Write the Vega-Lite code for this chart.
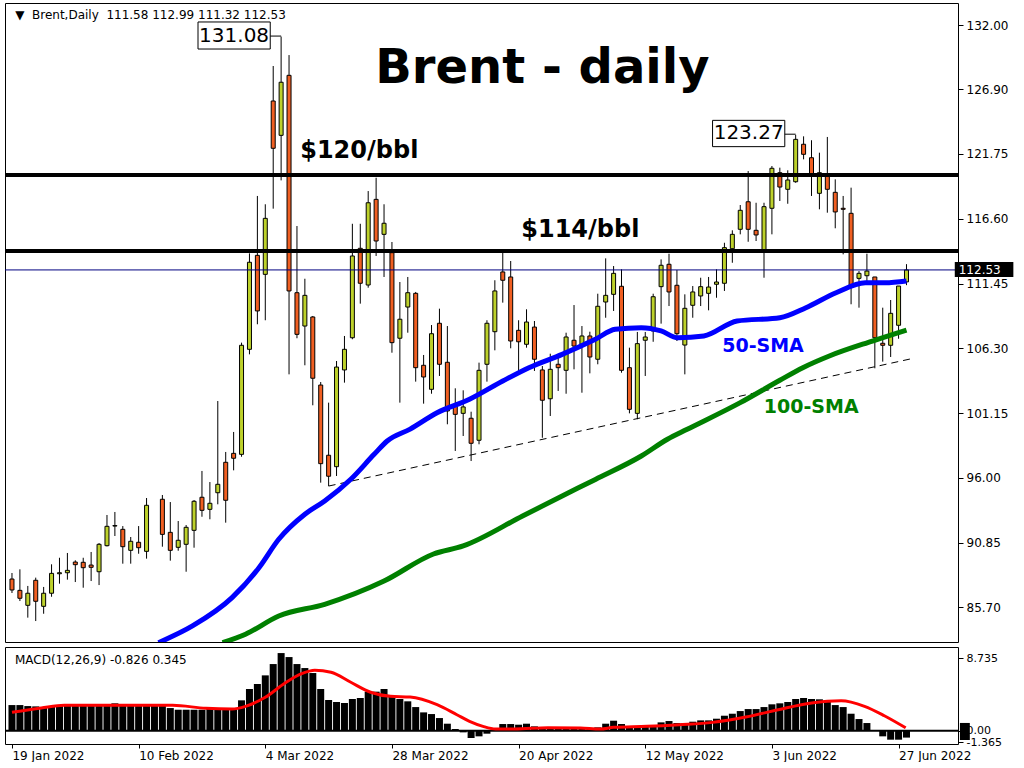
{
"$schema": "https://vega.github.io/schema/vega-lite/v6.json",
"background": "white",
"padding": {"left": 2, "top": 2, "right": 0, "bottom": 0},
"spacing": 3,
"config": {
  "view": {"stroke": "black", "strokeWidth": 1},
  "axis": {"labelFont": "DejaVu Sans", "labelFontSize": 12, "labelColor": "black", "tickColor": "black", "tickWidth": 1, "grid": false, "domain": false, "title": null},
  "text": {"font": "DejaVu Sans"}
},
"resolve": {"scale": {"x": "independent", "y": "independent"}},
"datasets": {
  "one": [{}],
  "candles": [
    {"i":0,"o":87.96,"h":88.44,"l":86.85,"c":87.09},
    {"i":1,"o":87.06,"h":88.73,"l":86.21,"c":86.43},
    {"i":2,"o":85.87,"h":87.41,"l":84.89,"c":86.83},
    {"i":3,"o":87.86,"h":88.07,"l":84.62,"c":86.19},
    {"i":4,"o":85.79,"h":87.33,"l":85.20,"c":86.83},
    {"i":5,"o":86.83,"h":89.13,"l":86.55,"c":88.41},
    {"i":6,"o":88.38,"h":89.65,"l":87.59,"c":88.46},
    {"i":7,"o":88.46,"h":90.03,"l":87.91,"c":88.65},
    {"i":8,"o":89.31,"h":89.45,"l":87.72,"c":89.10},
    {"i":9,"o":89.29,"h":89.65,"l":87.27,"c":88.86},
    {"i":10,"o":89.07,"h":90.11,"l":87.80,"c":88.89},
    {"i":11,"o":88.54,"h":90.82,"l":87.48,"c":90.72},
    {"i":12,"o":90.61,"h":93.05,"l":90.55,"c":92.15},
    {"i":13,"o":92.17,"h":93.29,"l":91.38,"c":92.21},
    {"i":14,"o":91.91,"h":92.17,"l":89.18,"c":90.53},
    {"i":15,"o":90.24,"h":91.30,"l":89.18,"c":90.96},
    {"i":16,"o":90.88,"h":92.17,"l":89.97,"c":90.45},
    {"i":17,"o":90.16,"h":94.40,"l":89.58,"c":93.82},
    {"i":19,"o":94.30,"h":94.64,"l":90.53,"c":91.51},
    {"i":20,"o":91.67,"h":94.08,"l":89.42,"c":90.24},
    {"i":21,"o":90.48,"h":92.57,"l":90.21,"c":91.04},
    {"i":22,"o":90.72,"h":92.25,"l":88.54,"c":92.07},
    {"i":23,"o":91.83,"h":94.24,"l":90.45,"c":94.14},
    {"i":24,"o":94.46,"h":96.55,"l":92.91,"c":93.42},
    {"i":25,"o":93.50,"h":95.67,"l":92.71,"c":93.98},
    {"i":26,"o":94.82,"h":102.11,"l":93.90,"c":95.49},
    {"i":27,"o":97.24,"h":98.06,"l":92.44,"c":94.22},
    {"i":28,"o":97.95,"h":99.65,"l":96.60,"c":97.56},
    {"i":29,"o":97.87,"h":106.75,"l":97.68,"c":106.54},
    {"i":30,"o":106.22,"h":113.85,"l":105.82,"c":113.14},
    {"i":31,"o":113.69,"h":118.41,"l":108.21,"c":109.27},
    {"i":32,"o":112.18,"h":117.75,"l":108.53,"c":116.63},
    {"i":33,"o":125.96,"h":128.74,"l":117.40,"c":122.20},
    {"i":34,"o":123.23,"h":131.08,"l":119.65,"c":127.45},
    {"i":35,"o":128.00,"h":129.61,"l":104.23,"c":110.86},
    {"i":36,"o":110.72,"h":116.02,"l":107.10,"c":107.41},
    {"i":37,"o":108.07,"h":111.83,"l":104.95,"c":110.51},
    {"i":38,"o":108.79,"h":108.87,"l":101.77,"c":103.92},
    {"i":39,"o":103.38,"h":103.62,"l":95.62,"c":97.13},
    {"i":40,"o":97.80,"h":101.98,"l":95.35,"c":96.13},
    {"i":41,"o":96.89,"h":105.29,"l":96.15,"c":104.81},
    {"i":42,"o":104.58,"h":107.28,"l":103.57,"c":106.22},
    {"i":43,"o":107.14,"h":116.20,"l":107.02,"c":113.64},
    {"i":44,"o":114.25,"h":116.20,"l":109.85,"c":111.47},
    {"i":45,"o":111.33,"h":118.80,"l":111.12,"c":117.87},
    {"i":46,"o":118.14,"h":119.86,"l":113.64,"c":114.83},
    {"i":47,"o":115.36,"h":117.75,"l":111.97,"c":116.24},
    {"i":48,"o":113.90,"h":114.75,"l":105.95,"c":106.75},
    {"i":49,"o":107.10,"h":111.57,"l":101.98,"c":108.61},
    {"i":50,"o":109.58,"h":111.97,"l":107.54,"c":110.72},
    {"i":51,"o":110.67,"h":110.78,"l":103.65,"c":104.76},
    {"i":52,"o":104.95,"h":105.77,"l":101.90,"c":104.02},
    {"i":53,"o":103.04,"h":108.15,"l":102.69,"c":107.46},
    {"i":54,"o":108.29,"h":109.45,"l":104.10,"c":105.03},
    {"i":55,"o":105.19,"h":108.07,"l":100.26,"c":101.32},
    {"i":56,"o":101.71,"h":103.12,"l":98.14,"c":101.05},
    {"i":57,"o":101.13,"h":102.96,"l":99.33,"c":101.64},
    {"i":58,"o":100.74,"h":101.26,"l":97.34,"c":98.75},
    {"i":59,"o":98.99,"h":105.16,"l":98.67,"c":104.55},
    {"i":60,"o":105.03,"h":108.53,"l":103.65,"c":108.29},
    {"i":61,"o":107.62,"h":111.71,"l":106.14,"c":110.86},
    {"i":62,"o":112.37,"h":113.90,"l":109.93,"c":111.71},
    {"i":63,"o":111.97,"h":113.24,"l":106.30,"c":106.88},
    {"i":64,"o":107.73,"h":108.53,"l":104.36,"c":106.82},
    {"i":65,"o":106.62,"h":109.40,"l":106.35,"c":108.39},
    {"i":66,"o":107.99,"h":108.47,"l":104.50,"c":105.43},
    {"i":67,"o":104.58,"h":104.89,"l":99.19,"c":102.17},
    {"i":68,"o":102.29,"h":105.87,"l":100.92,"c":104.63},
    {"i":69,"o":105.03,"h":105.82,"l":102.91,"c":104.76},
    {"i":70,"o":104.55,"h":107.54,"l":102.69,"c":107.20},
    {"i":71,"o":106.94,"h":109.74,"l":104.63,"c":106.48},
    {"i":72,"o":106.62,"h":108.07,"l":102.77,"c":107.28},
    {"i":73,"o":107.28,"h":107.62,"l":104.31,"c":105.61},
    {"i":74,"o":105.43,"h":110.64,"l":105.03,"c":109.64},
    {"i":75,"o":109.98,"h":113.45,"l":108.73,"c":110.51},
    {"i":76,"o":110.59,"h":112.84,"l":109.27,"c":112.26},
    {"i":77,"o":111.23,"h":112.58,"l":104.36,"c":104.55},
    {"i":78,"o":104.76,"h":106.35,"l":101.13,"c":101.45},
    {"i":79,"o":101.13,"h":107.60,"l":100.66,"c":106.67},
    {"i":80,"o":106.94,"h":107.60,"l":104.10,"c":107.20},
    {"i":81,"o":107.68,"h":110.64,"l":106.82,"c":110.40},
    {"i":82,"o":111.20,"h":113.37,"l":108.26,"c":112.90},
    {"i":83,"o":112.98,"h":113.82,"l":109.66,"c":110.78},
    {"i":84,"o":111.31,"h":112.52,"l":106.88,"c":107.46},
    {"i":85,"o":106.56,"h":110.59,"l":104.23,"c":109.48},
    {"i":86,"o":109.72,"h":111.25,"l":108.73,"c":110.78},
    {"i":87,"o":110.46,"h":111.91,"l":109.66,"c":111.20},
    {"i":88,"o":110.67,"h":111.97,"l":109.32,"c":111.17},
    {"i":89,"o":111.39,"h":112.58,"l":110.32,"c":111.57},
    {"i":90,"o":111.47,"h":114.69,"l":110.86,"c":114.30},
    {"i":91,"o":114.22,"h":115.68,"l":113.10,"c":115.36},
    {"i":92,"o":115.76,"h":117.69,"l":115.36,"c":117.27},
    {"i":93,"o":117.95,"h":120.39,"l":114.77,"c":115.76},
    {"i":94,"o":115.68,"h":117.87,"l":114.83,"c":115.31},
    {"i":95,"o":114.03,"h":117.87,"l":111.91,"c":117.56},
    {"i":96,"o":117.43,"h":120.79,"l":115.36,"c":120.61},
    {"i":97,"o":120.26,"h":120.66,"l":118.01,"c":119.12},
    {"i":98,"o":118.94,"h":120.45,"l":117.79,"c":119.68},
    {"i":99,"o":119.54,"h":123.27,"l":119.46,"c":122.91},
    {"i":100,"o":122.52,"h":123.15,"l":121.32,"c":121.72},
    {"i":101,"o":121.45,"h":122.84,"l":118.41,"c":120.18},
    {"i":102,"o":118.62,"h":121.85,"l":117.35,"c":120.26},
    {"i":103,"o":120.13,"h":123.10,"l":117.08,"c":118.94},
    {"i":104,"o":118.70,"h":119.73,"l":115.84,"c":117.14},
    {"i":105,"o":117.43,"h":118.41,"l":113.77,"c":117.35},
    {"i":106,"o":117.03,"h":119.07,"l":109.80,"c":111.31},
    {"i":107,"o":111.86,"h":112.44,"l":109.53,"c":112.26},
    {"i":108,"o":112.07,"h":113.82,"l":111.39,"c":112.44},
    {"i":109,"o":111.97,"h":111.97,"l":104.71,"c":107.14},
    {"i":110,"o":106.70,"h":109.53,"l":105.24,"c":106.54},
    {"i":111,"o":106.54,"h":110.14,"l":105.61,"c":109.08},
    {"i":112,"o":108.13,"h":111.25,"l":107.06,"c":111.25},
    {"i":113,"o":111.58,"h":112.99,"l":111.32,"c":112.53}
  ],
  "sma50": [
    {"i":18.5,"v":82.9},{"i":22.8,"v":84.23},{"i":27.8,"v":86.48},{"i":31.2,"v":88.86},{"i":33.7,"v":91.12},
    {"i":37,"v":93.11},{"i":39.5,"v":94.16},{"i":42.8,"v":95.89},{"i":45.75,"v":97.87},{"i":47.4,"v":98.93},
    {"i":50.3,"v":99.88},{"i":53.7,"v":101.18},{"i":57.8,"v":102.25},{"i":62,"v":103.70},{"i":65.3,"v":104.76},
    {"i":69.5,"v":105.82},{"i":73.7,"v":107.02},{"i":76.2,"v":107.81},{"i":79.5,"v":107.94},{"i":82,"v":107.68},
    {"i":84.1,"v":107.14},{"i":87.4,"v":107.28},{"i":91.6,"v":108.47},{"i":97,"v":108.73},{"i":100.3,"v":109.53},
    {"i":104.1,"v":110.72},{"i":107.8,"v":111.51},{"i":110.3,"v":111.51},{"i":113,"v":111.65}
  ],
  "sma100": [
    {"i":26.6,"v":82.9},{"i":29.5,"v":83.57},{"i":33.7,"v":85.02},{"i":39.5,"v":85.95},{"i":47,"v":87.80},
    {"i":53.25,"v":89.95},{"i":57,"v":90.59},{"i":64.5,"v":92.97},{"i":69.5,"v":94.56},{"i":73.7,"v":95.88},
    {"i":79.5,"v":97.74},{"i":82.8,"v":99.07},{"i":85.3,"v":99.86},{"i":92,"v":101.98},{"i":97,"v":103.76},
    {"i":99.9,"v":104.76},{"i":103.25,"v":105.69},{"i":108.7,"v":106.88},{"i":113,"v":107.75}
  ],
  "trend": [{"i1":40,"p1":95.35,"i2":113.9,"p2":105.51}],
  "macd": [
    {"i":0,"v":3.08},{"i":1,"v":3.08},{"i":2,"v":2.96},{"i":3,"v":2.92},{"i":4,"v":2.84},{"i":5,"v":2.92},
    {"i":6,"v":3.04},{"i":7,"v":3.12},{"i":8,"v":3.12},{"i":9,"v":3.12},{"i":10,"v":3.12},{"i":11,"v":3.12},
    {"i":12,"v":3.17},{"i":13,"v":3.29},{"i":14,"v":3.17},{"i":15,"v":3.12},{"i":16,"v":3.12},{"i":17,"v":3.12},
    {"i":18,"v":3.12},{"i":19,"v":3.04},{"i":20,"v":2.72},{"i":21,"v":2.52},{"i":22,"v":2.52},{"i":23,"v":2.52},
    {"i":24,"v":2.52},{"i":25,"v":2.60},{"i":26,"v":2.60},{"i":27,"v":2.60},{"i":28,"v":2.60},{"i":29,"v":3.65},
    {"i":30,"v":5.01},{"i":31,"v":5.61},{"i":32,"v":6.65},{"i":33,"v":8.01},{"i":34,"v":9.33},{"i":35,"v":8.85},
    {"i":36,"v":8.01},{"i":37,"v":7.53},{"i":38,"v":6.93},{"i":39,"v":5.01},{"i":40,"v":3.69},{"i":41,"v":3.45},
    {"i":42,"v":3.33},{"i":43,"v":3.81},{"i":44,"v":3.93},{"i":45,"v":4.69},{"i":46,"v":4.69},{"i":47,"v":5.01},
    {"i":48,"v":4.13},{"i":49,"v":3.81},{"i":50,"v":3.53},{"i":51,"v":2.84},{"i":52,"v":2.20},{"i":53,"v":2.00},
    {"i":54,"v":1.52},{"i":55,"v":0.84},{"i":56,"v":0.20},{"i":57,"v":-0.20},{"i":58,"v":-0.88},{"i":59,"v":-0.68},
    {"i":60,"v":-0.36},{"i":61,"v":0.04},{"i":62,"v":0.80},{"i":63,"v":0.80},{"i":64,"v":0.72},{"i":65,"v":0.84},
    {"i":66,"v":0.52},{"i":67,"v":0.32},{"i":68,"v":0.32},{"i":69,"v":0.28},{"i":70,"v":0.28},{"i":71,"v":0.20},
    {"i":72,"v":0.20},{"i":73,"v":0.20},{"i":74,"v":0.40},{"i":75,"v":0.84},{"i":76,"v":1.20},{"i":77,"v":0.80},
    {"i":78,"v":0.44},{"i":79,"v":0.44},{"i":80,"v":0.52},{"i":81,"v":0.52},{"i":82,"v":1.00},{"i":83,"v":1.16},
    {"i":84,"v":0.92},{"i":85,"v":0.92},{"i":86,"v":1.08},{"i":87,"v":1.24},{"i":88,"v":1.24},{"i":89,"v":1.44},
    {"i":90,"v":1.80},{"i":91,"v":2.04},{"i":92,"v":2.36},{"i":93,"v":2.60},{"i":94,"v":2.60},{"i":95,"v":2.84},
    {"i":96,"v":3.17},{"i":97,"v":3.29},{"i":98,"v":3.45},{"i":99,"v":3.81},{"i":100,"v":3.93},{"i":101,"v":3.81},
    {"i":102,"v":3.77},{"i":103,"v":3.53},{"i":104,"v":3.08},{"i":105,"v":2.84},{"i":106,"v":2.04},{"i":107,"v":1.40},
    {"i":108,"v":0.92},{"i":109,"v":0.02},{"i":110,"v":-0.68},{"i":111,"v":-1.08},{"i":112,"v":-1.08},{"i":113,"v":-0.83}
  ],
  "signal": [
    {"i":0,"v":2.21},{"i":3.7,"v":2.73},{"i":6.6,"v":3.05},{"i":20.3,"v":3.05},{"i":24.5,"v":2.69},{"i":27.8,"v":2.61},
    {"i":29.5,"v":2.93},{"i":32,"v":4.01},{"i":34.5,"v":5.73},{"i":36.6,"v":6.85},{"i":38.25,"v":7.26},{"i":40.3,"v":7.02},
    {"i":42.8,"v":5.82},{"i":45.3,"v":4.62},{"i":47.8,"v":4.13},{"i":50.3,"v":4.05},{"i":53.7,"v":3.13},{"i":56.2,"v":1.92},
    {"i":57.8,"v":1.12},{"i":59.5,"v":0.52},{"i":61.1,"v":0.2},{"i":63.5,"v":0.2},{"i":67.7,"v":0.36},{"i":71.8,"v":0.32},
    {"i":74.3,"v":0.2},{"i":76,"v":0.40},{"i":80.2,"v":0.52},{"i":84.3,"v":0.72},{"i":88.5,"v":1.0},{"i":92.7,"v":1.64},
    {"i":96.8,"v":2.52},{"i":101,"v":3.33},{"i":104.75,"v":3.6},{"i":107.7,"v":2.93},{"i":110.2,"v":1.80},{"i":112.9,"v":0.345}
  ]
},
"vconcat": [
  {
    "width": 953,
    "height": 639,
    "encoding": {
      "x": {"type": "quantitative", "scale": {"domain": [-0.25, 118.875], "nice": false, "zero": false}, "axis": null}
    },
    "layer": [
      {
        "data": {"name": "candles"},
        "mark": {"type": "rule", "color": "black", "strokeWidth": 1},
        "encoding": {
          "x": {"field": "i", "type": "quantitative"},
          "y": {"field": "l", "type": "quantitative", "scale": {"domain": [82.954, 133.749], "nice": false, "zero": false},
                "axis": {"orient": "right", "values": [85.7, 90.85, 96, 101.15, 106.3, 111.45, 116.6, 121.75, 126.9, 132], "format": ".2f", "tickSize": 5, "labelPadding": 3}},
          "y2": {"field": "h"}
        }
      },
      {
        "data": {"name": "candles"},
        "mark": {"type": "bar", "size": 4, "stroke": "black", "strokeWidth": 1},
        "encoding": {
          "x": {"field": "i", "type": "quantitative"},
          "y": {"field": "o", "type": "quantitative"},
          "y2": {"field": "c"},
          "color": {"condition": {"test": "datum.c >= datum.o", "value": "#bdd12b"}, "value": "#f05f22"}
        }
      },
      {
        "data": {"name": "one"},
        "mark": {"type": "rule", "color": "black", "strokeWidth": 4},
        "encoding": {"y": {"datum": 120.08, "type": "quantitative"}}
      },
      {
        "data": {"name": "one"},
        "mark": {"type": "rule", "color": "black", "strokeWidth": 4},
        "encoding": {"y": {"datum": 114.04, "type": "quantitative"}}
      },
      {
        "data": {"name": "one"},
        "mark": {"type": "rule", "color": "#000080", "strokeWidth": 1},
        "encoding": {"y": {"datum": 112.53, "type": "quantitative"}}
      },
      {
        "data": {"name": "trend"},
        "mark": {"type": "rule", "color": "black", "strokeWidth": 1, "strokeDash": [7, 5]},
        "encoding": {
          "x": {"field": "i1", "type": "quantitative"}, "x2": {"field": "i2"},
          "y": {"field": "p1", "type": "quantitative"}, "y2": {"field": "p2"}
        }
      },
      {
        "data": {"name": "sma100"},
        "mark": {"type": "line", "color": "#008000", "strokeWidth": 5, "interpolate": "monotone", "clip": true},
        "encoding": {"x": {"field": "i", "type": "quantitative"}, "y": {"field": "v", "type": "quantitative"}}
      },
      {
        "data": {"name": "sma50"},
        "mark": {"type": "line", "color": "#0000ff", "strokeWidth": 5, "interpolate": "monotone", "clip": true},
        "encoding": {"x": {"field": "i", "type": "quantitative"}, "y": {"field": "v", "type": "quantitative"}}
      },
      {
        "data": {"name": "one"},
        "mark": {"type": "text", "text": "▼\u00a0\u00a0Brent,Daily\u00a0\u00a0111.58 112.99 111.32 112.53", "align": "left", "baseline": "middle", "fontSize": 12, "color": "black"},
        "encoding": {"x": {"datum": 0.4, "type": "quantitative"}, "y": {"datum": 132.79, "type": "quantitative"}}
      },
      {
        "data": {"name": "one"},
        "mark": {"type": "text", "text": "Brent - daily", "align": "center", "baseline": "alphabetic", "fontSize": 48, "fontWeight": "bold", "color": "black"},
        "encoding": {"x": {"datum": 67, "type": "quantitative"}, "y": {"datum": 127.39, "type": "quantitative"}}
      },
      {
        "data": {"name": "one"},
        "mark": {"type": "text", "text": "$120/bbl", "align": "center", "baseline": "alphabetic", "fontSize": 24, "fontWeight": "bold", "color": "black"},
        "encoding": {"x": {"datum": 43.875, "type": "quantitative"}, "y": {"datum": 121.39, "type": "quantitative"}}
      },
      {
        "data": {"name": "one"},
        "mark": {"type": "text", "text": "$114/bbl", "align": "center", "baseline": "alphabetic", "fontSize": 24, "fontWeight": "bold", "color": "black"},
        "encoding": {"x": {"datum": 71.8, "type": "quantitative"}, "y": {"datum": 115.15, "type": "quantitative"}}
      },
      {
        "data": {"name": "one"},
        "mark": {"type": "text", "text": "50-SMA", "align": "center", "baseline": "alphabetic", "fontSize": 19, "fontWeight": "bold", "color": "#0000ff"},
        "encoding": {"x": {"datum": 94.875, "type": "quantitative"}, "y": {"datum": 106.03, "type": "quantitative"}}
      },
      {
        "data": {"name": "one"},
        "mark": {"type": "text", "text": "100-SMA", "align": "center", "baseline": "alphabetic", "fontSize": 19, "fontWeight": "bold", "color": "#008000"},
        "encoding": {"x": {"datum": 100.96, "type": "quantitative"}, "y": {"datum": 101.18, "type": "quantitative"}}
      },
      {
        "data": {"name": "one"},
        "mark": {"type": "rect", "fill": "white", "stroke": "black", "strokeWidth": 1},
        "encoding": {"x": {"datum": 23.5, "type": "quantitative"}, "x2": {"datum": 32.625}, "y": {"datum": 130.09, "type": "quantitative"}, "y2": {"datum": 132.24}}
      },
      {
        "data": {"name": "one"},
        "mark": {"type": "rule", "color": "black", "strokeWidth": 1},
        "encoding": {"x": {"datum": 32.625, "type": "quantitative"}, "x2": {"datum": 34}, "y": {"datum": 131.12, "type": "quantitative"}}
      },
      {
        "data": {"name": "one"},
        "mark": {"type": "text", "text": "131.08", "align": "center", "baseline": "middle", "fontSize": 20, "color": "black"},
        "encoding": {"x": {"datum": 28.06, "type": "quantitative"}, "y": {"datum": 131.16, "type": "quantitative"}}
      },
      {
        "data": {"name": "one"},
        "mark": {"type": "rect", "fill": "white", "stroke": "black", "strokeWidth": 1},
        "encoding": {"x": {"datum": 88.5, "type": "quantitative"}, "x2": {"datum": 97.625}, "y": {"datum": 122.33, "type": "quantitative"}, "y2": {"datum": 124.42}}
      },
      {
        "data": {"name": "one"},
        "mark": {"type": "rule", "color": "black", "strokeWidth": 1},
        "encoding": {"x": {"datum": 97.625, "type": "quantitative"}, "x2": {"datum": 99}, "y": {"datum": 123.32, "type": "quantitative"}}
      },
      {
        "data": {"name": "one"},
        "mark": {"type": "text", "text": "123.27", "align": "center", "baseline": "middle", "fontSize": 20, "color": "black"},
        "encoding": {"x": {"datum": 93.06, "type": "quantitative"}, "y": {"datum": 123.38, "type": "quantitative"}}
      },
      {
        "data": {"name": "one"},
        "mark": {"type": "rect", "fill": "black", "clip": false},
        "encoding": {"x": {"datum": 119.1, "type": "quantitative"}, "x2": {"datum": 126.5}, "y": {"datum": 111.97, "type": "quantitative"}, "y2": {"datum": 113.16}}
      },
      {
        "data": {"name": "one"},
        "mark": {"type": "text", "text": "112.53", "align": "left", "baseline": "middle", "fontSize": 12, "color": "white"},
        "encoding": {"x": {"datum": 119.6, "type": "quantitative"}, "y": {"datum": 112.53, "type": "quantitative"}}
      }
    ]
  },
  {
    "width": 953,
    "height": 97,
    "encoding": {
      "x": {"type": "quantitative", "scale": {"domain": [-0.25, 118.875], "nice": false, "zero": false},
            "axis": {"values": [0, 16, 32, 48, 64, 80, 96, 112], "labelExpr": "['19 Jan 2022','10 Feb 2022','4 Mar 2022','28 Mar 2022','20 Apr 2022','12 May 2022','3 Jun 2022','27 Jun 2022'][round(datum.value/16)]", "labelAlign": "left", "tickSize": 4, "labelPadding": 2, "labelFlush": false}}
    },
    "layer": [
      {
        "data": {"name": "macd"},
        "mark": {"type": "bar", "size": 7, "color": "black"},
        "encoding": {
          "x": {"field": "i", "type": "quantitative"},
          "y": {"field": "v", "type": "quantitative", "scale": {"domain": [-1.6, 10.06], "nice": false, "zero": false},
                "axis": {"orient": "right", "values": [8.735, 0, -1.365], "labelExpr": "datum.value == 0 ? '0.00' : (datum.value > 1 ? '8.735' : '-1.365')", "labelOverlap": false, "labelFlush": false, "labelFontSize": 11, "tickSize": 5, "labelPadding": 3}},
          "y2": {"datum": 0}
        }
      },
      {
        "data": {"name": "one"},
        "mark": {"type": "rule", "color": "black", "strokeWidth": 2},
        "encoding": {"y": {"datum": 0, "type": "quantitative"}}
      },
      {
        "data": {"name": "signal"},
        "mark": {"type": "line", "color": "#ff0000", "strokeWidth": 3, "interpolate": "monotone"},
        "encoding": {"x": {"field": "i", "type": "quantitative"}, "y": {"field": "v", "type": "quantitative"}}
      },
      {
        "data": {"name": "one"},
        "mark": {"type": "rect", "fill": "black", "clip": false},
        "encoding": {"x": {"datum": 119.75, "type": "quantitative"}, "x2": {"datum": 121}, "y": {"datum": -1.12, "type": "quantitative"}, "y2": {"datum": 0.93}}
      },
      {
        "data": {"name": "one"},
        "mark": {"type": "text", "text": "MACD(12,26,9) -0.826 0.345", "align": "left", "baseline": "middle", "fontSize": 12, "color": "black"},
        "encoding": {"x": {"datum": 0.375, "type": "quantitative"}, "y": {"datum": 8.44, "type": "quantitative"}}
      }
    ]
  }
]
}
